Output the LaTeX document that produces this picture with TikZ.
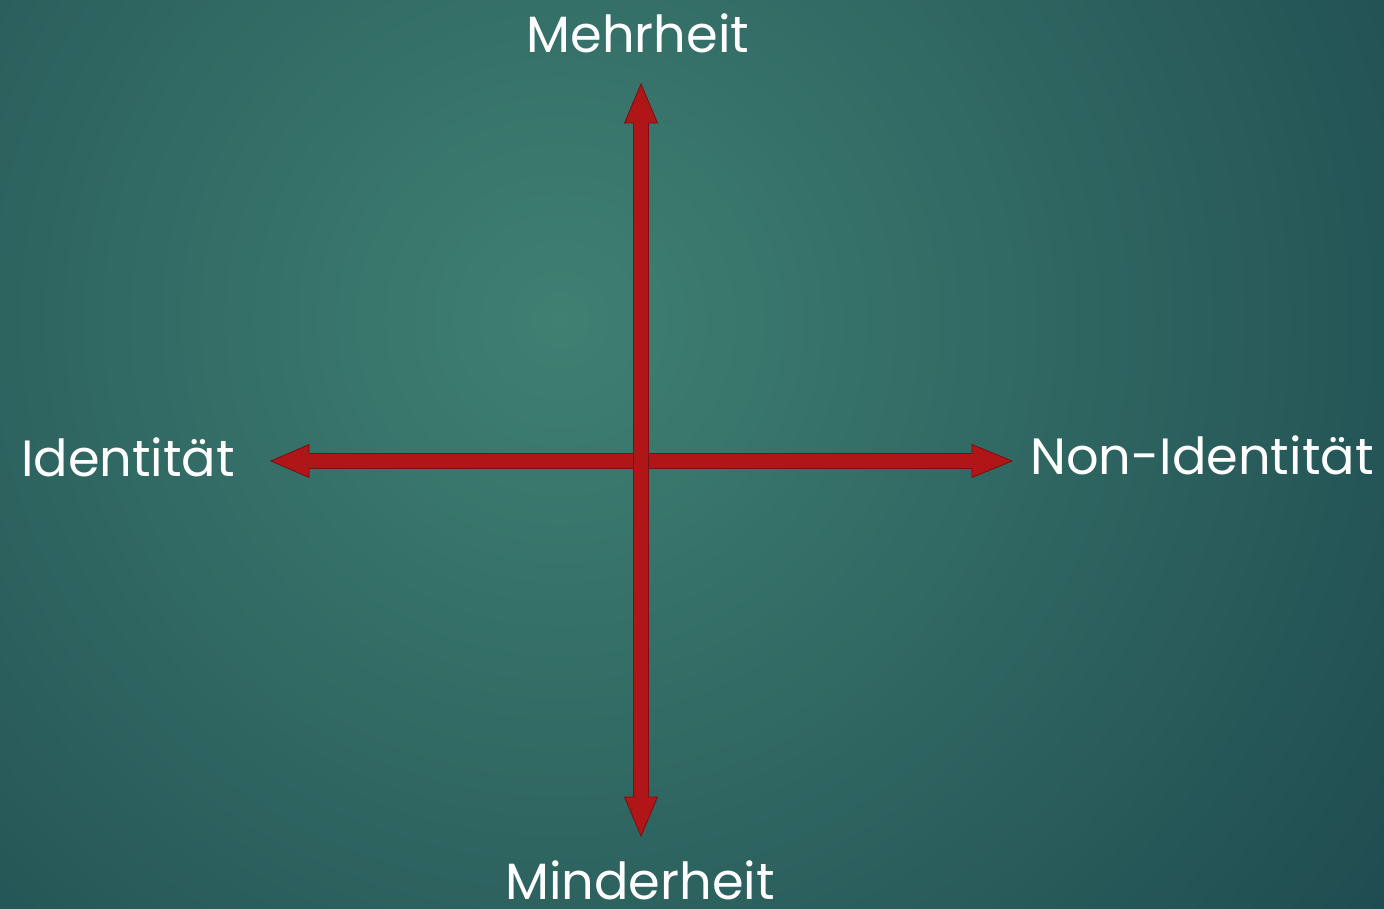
\documentclass[tikz,border=0pt]{standalone}
\usepackage{fontspec}
\setmainfont{Poppins}
\definecolor{bginner}{HTML}{3F8073}
\definecolor{bgouter}{HTML}{1E4A4F}
\definecolor{arrowred}{HTML}{B01518}
\definecolor{arrowline}{HTML}{7A0E10}

\begin{document}
\begin{tikzpicture}[x=1pt, y=-1pt,
        axislabel/.style={text=white, anchor=base, inner sep=0pt, font=\fontsize{51}{58}\selectfont},
        blockarrow/.style={fill=arrowred, draw=arrowline, line width=0.8pt, line join=miter},
        ]
            \useasboundingbox (0,0) rectangle (1384,908);
            \begin{scope}
                \clip (0,0) rectangle (1384,908);
                \shade[inner color=bginner, outer color=bgouter] (560,320) circle (1050);
            \end{scope}

            \node[axislabel]  at(638,52)  (mehr)  {Mehrheit};
            \node[axislabel]  at(640,899) (minder) {Minderheit};
            \node[axislabel]  at(128,476) (ident) {Identität};
            \node[axislabel]  at(1202,474) (nonident) {Non-Identität};

            \coordinate (top)   at (641,84);
            \coordinate (bot)   at (641,836);
            \coordinate (left)  at (271,461);
            \coordinate (right) at (1012,461);

            % horizontal arrow
            \draw[blockarrow] (left) -- ++(38,-16.5) -- ++(0,9) -- ([shift={(-40,-7.5)}]right) -- ++(0,-9)
                -- (right) -- ++(-40,16.5) -- ++(0,-9) -- ([shift={(38,7.5)}]left) -- ++(0,9) -- cycle;
            % vertical arrow
            \draw[blockarrow] (top) -- ++(16.5,39) -- ++(-9,0) -- ([shift={(7.5,-39)}]bot) -- ++(9,0)
                -- (bot) -- ++(-16.5,-39) -- ++(9,0) -- ([shift={(-7.5,39)}]top) -- ++(-9,0) -- cycle;
            % crossing without outline
            \fill[arrowred] (633.9,453.9) rectangle (648.1,468.1);

        \end{tikzpicture}
\end{document}
